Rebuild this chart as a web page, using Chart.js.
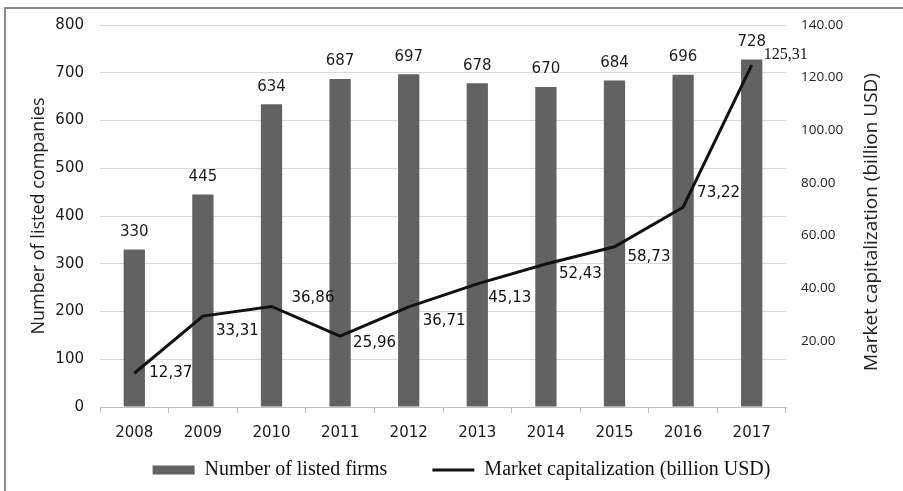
<!DOCTYPE html>
<html>
<head>
<meta charset="utf-8">
<script src="https://cdn.jsdelivr.net/npm/chart.js@4.4.1/dist/chart.umd.min.js"></script>
<style>
html, body { margin: 0; padding: 0; background: #fff; }
#wrap { position: relative; width: 903px; height: 491px; overflow: hidden; }
#frame { position: absolute; left: 4px; top: 7px; width: 1000px; height: 1000px;
         border-left: 2px solid #8c8c8c; border-top: 2px solid #8c8c8c; pointer-events: none; }
canvas { position: absolute; left: 0; top: 0; }
</style>
</head>
<body>
<div id="wrap">
    <canvas id="chartCanvas" width="903" height="491"></canvas>
    <div id="frame"></div>
</div>
<script>
const years = ["2008", "2009", "2010", "2011", "2012", "2013", "2014", "2015", "2016", "2017"];
const listedFirms = [330, 445, 634, 687, 697, 678, 670, 684, 696, 728];
const marketCap = [12.37, 33.31, 36.86, 25.96, 36.71, 45.13, 52.43, 58.73, 73.22, 125.31];
const leftTicks = [0, 100, 200, 300, 400, 500, 600, 700, 800];
const rightTicks = [20, 40, 60, 80, 100, 120, 140];

// where each capitalization label sits relative to its point (dx, dy)
const capLabelShift = [[15, 0], [13, 15], [20, -8], [13, 7], [14, 14], [11, 14], [13, 10], [13, 10], [14, -14], [12, -10]];

const labelsPlugin = {
    id: "labelsPlugin",
    afterDatasetsDraw(chart) {
        const ctx = chart.ctx;
        ctx.save();
        // values above bars
        const barMeta = chart.getDatasetMeta(0);
        ctx.fillStyle = "#1e1e1e";
        ctx.font = "15px 'DejaVu Sans'";
        ctx.textAlign = "center";
        ctx.textBaseline = "bottom";
        barMeta.data.forEach(function (bar, i) {
            ctx.fillText(String(listedFirms[i]), bar.x, bar.y - 10);
        });
        // values next to the line
        const lineMeta = chart.getDatasetMeta(1);
        ctx.textAlign = "left";
        ctx.textBaseline = "middle";
        lineMeta.data.forEach(function (pt, i) {
            const txt = marketCap[i].toFixed(2).replace(".", ",");
            ctx.font = i === 9 ? "16px 'Liberation Serif'" : "15px 'DejaVu Sans'";
            ctx.fillStyle = "#111";
            ctx.fillText(txt, pt.x + capLabelShift[i][0], pt.y + capLabelShift[i][1]);
        });
        // right axis title, reading bottom to top
        ctx.translate(872, 222);
        ctx.rotate(-Math.PI / 2);
        ctx.textAlign = "center";
        ctx.font = "19px 'Open Sans'";
        ctx.fillStyle = "#222";
        ctx.fillText("Market capitalization (billion USD)", 0, 0);
        ctx.restore();
    }
};

new Chart(document.getElementById("chartCanvas"), {
    data: {
        labels: years,
        datasets: [{
            type: "bar",
            label: "Number of listed firms",
            data: listedFirms,
            backgroundColor: "#626262",
            borderWidth: 0,
            categoryPercentage: 1,
            barPercentage: 0.31,
            yAxisID: "y",
            order: 1
        }, {
            type: "line",
            label: "Market capitalization (billion USD)",
            data: marketCap,
            borderColor: "#111",
            backgroundColor: "#111",
            borderWidth: 3,
            pointRadius: 0,
            tension: 0,
            yAxisID: "yLine",
            order: 0
        }]
    },
    options: {
        responsive: false,
        devicePixelRatio: 1,
        animation: false,
        layout: { padding: { left: 20, right: 0, top: 25, bottom: 1 } },
        plugins: {
            tooltip: { enabled: false },
            legend: {
                position: "bottom",
                labels: {
                    usePointStyle: true,
                    pointStyleWidth: 42,
                    boxHeight: 9,
                    padding: 45,
                    color: "#111",
                    font: { family: "'Liberation Serif'", size: 20 },
                    sort: function (a, b) { return a.datasetIndex - b.datasetIndex; },
                    generateLabels: function (chart) {
                        const items = Chart.defaults.plugins.legend.labels.generateLabels(chart);
                        items.forEach(function (it) {
                            if (it.datasetIndex === 0) {
                                it.pointStyle = "rect";
                                it.lineWidth = 0;
                                it.fillStyle = "#626262";
                            } else {
                                it.pointStyle = "line";
                                it.lineWidth = 3;
                                it.strokeStyle = "#111";
                            }
                        });
                        return items;
                    }
                }
            }
        },
        scales: {
            x: {
                afterFit: function (axis) { axis.height = 8; },
                grid: { display: true, drawOnChartArea: false, tickLength: 6, color: "#bfbfbf" },
                border: { display: true, color: "#bfbfbf" },
                ticks: { mirror: true, color: "#1a1a1a", padding: -35, font: { family: "'DejaVu Sans'", size: 15 } }
            },
            y: {
                position: "left",
                min: 0,
                max: 800,
                afterBuildTicks: function (axis) { axis.ticks = leftTicks.map(v => ({ value: v })); },
                afterFit: function (axis) { axis.width = 80; },
                grid: { color: "#d9d9d9", drawTicks: false },
                border: { display: false },
                ticks: { color: "#1a1a1a", padding: 16, font: { family: "'DejaVu Sans'", size: 15 } },
                title: {
                    display: true,
                    text: "Number of listed companies",
                    color: "#222",
                    padding: { top: 8, bottom: 0 },
                    font: { family: "'Open Sans'", size: 18 }
                }
            },
            yLine: {
                display: false,
                min: 0,
                max: 140
            },
            yRight: {
                position: "right",
                min: -5.1,
                max: 140,
                afterBuildTicks: function (axis) { axis.ticks = rightTicks.map(v => ({ value: v })); },
                afterFit: function (axis) { axis.width = 117; },
                grid: { display: false, drawTicks: false },
                border: { display: false },
                ticks: {
                    color: "#222",
                    padding: 15,
                    font: { family: "'Open Sans'", size: 13.5 },
                    callback: function (v) { return Number(v).toFixed(2); }
                }
            }
        }
    },
    plugins: [labelsPlugin]
});
</script>
</body>
</html>
